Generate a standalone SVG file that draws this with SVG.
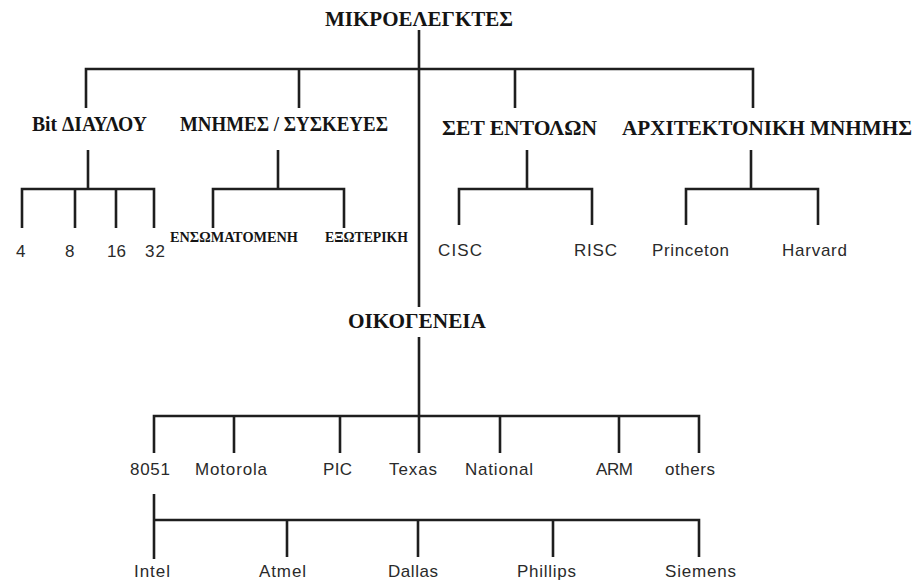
<svg xmlns="http://www.w3.org/2000/svg" width="914" height="582" viewBox="0 0 914 582">
<style>
.bg{fill:#ffffff}
.c{stroke:#1e1e1e;stroke-width:2.6;fill:none;stroke-linecap:butt}
.h{font-family:"Liberation Serif","Times New Roman",serif;font-weight:bold;font-size:21px;fill:#141414}
.hs{font-family:"Liberation Serif","Times New Roman",serif;font-weight:bold;font-size:14px;fill:#141414}
.l{font-family:"Liberation Sans",Arial,sans-serif;font-size:17px;fill:#2a2a2a}
</style>
<rect class="bg" x="0" y="0" width="914" height="582"/>
<g id="connectors" class="c">
<path d="M419 30V307M419 337V453"/>
<path d="M86 108V69H753V108M299 69V108M515 69V108"/>
<path d="M88 150V189M22 228V189H154V228M75 189V228M116 189V228"/>
<path d="M278 150V189M213 228V189H344V228"/>
<path d="M527 150V189M459 225V189H592V225"/>
<path d="M751 150V189M686 225V189H818V225"/>
<path d="M154 453V416H699V453M234 416V453M340 416V453M500 416V453M619 416V453"/>
<path d="M154 494V559M154 520H699V557M287 520V557M418 520V557M553 520V557"/>
</g>
<g id="root"><text class="h" x="325" y="26" textLength="188" lengthAdjust="spacingAndGlyphs">ΜΙΚΡΟΕΛΕΓΚΤΕΣ</text></g>
<g id="bit"><text class="h" x="32" y="131" textLength="115" lengthAdjust="spacingAndGlyphs">Bit ΔΙΑΥΛΟΥ</text></g>
<g id="mem"><text class="h" x="180" y="131" textLength="208" lengthAdjust="spacingAndGlyphs">ΜΝΗΜΕΣ / ΣΥΣΚΕΥΕΣ</text></g>
<g id="set"><text class="h" x="442" y="135" textLength="155" lengthAdjust="spacingAndGlyphs">ΣΕΤ ΕΝΤΟΛΩΝ</text></g>
<g id="arch"><text class="h" x="622" y="135" textLength="290" lengthAdjust="spacingAndGlyphs">ΑΡΧΙΤΕΚΤΟΝΙΚΗ ΜΝΗΜΗΣ</text></g>
<g id="family"><text class="h" x="348" y="328" textLength="138" lengthAdjust="spacingAndGlyphs">ΟΙΚΟΓΕΝΕΙΑ</text></g>
<g id="bit4"><text class="l" x="16" y="257">4</text></g>
<g id="bit8"><text class="l" x="65" y="257">8</text></g>
<g id="bit16"><text class="l" x="107" y="257" textLength="19">16</text></g>
<g id="bit32"><text class="l" x="145" y="257" textLength="20">32</text></g>
<g id="internal"><text class="hs" x="170" y="242" textLength="128" lengthAdjust="spacingAndGlyphs">ΕΝΣΩΜΑΤΟΜΕΝΗ</text></g>
<g id="external"><text class="hs" x="325" y="242" textLength="83" lengthAdjust="spacingAndGlyphs">ΕΞΩΤΕΡΙΚΗ</text></g>
<g id="cisc"><text class="l" x="438" y="256" textLength="44">CISC</text></g>
<g id="risc"><text class="l" x="574" y="256" textLength="43">RISC</text></g>
<g id="princeton"><text class="l" x="652" y="256" textLength="77">Princeton</text></g>
<g id="harvard"><text class="l" x="782" y="256" textLength="65">Harvard</text></g>
<g id="f8051"><text class="l" x="130" y="475" textLength="40">8051</text></g>
<g id="motorola"><text class="l" x="195" y="475" textLength="72">Motorola</text></g>
<g id="pic"><text class="l" x="323" y="475" textLength="29">PIC</text></g>
<g id="texas"><text class="l" x="389" y="475" textLength="48">Texas</text></g>
<g id="national"><text class="l" x="465" y="475" textLength="68">National</text></g>
<g id="arm"><text class="l" x="596" y="475" textLength="37">ARM</text></g>
<g id="others"><text class="l" x="665" y="475" textLength="50">others</text></g>
<g id="intel"><text class="l" x="134" y="577" textLength="36">Intel</text></g>
<g id="atmel"><text class="l" x="259" y="577" textLength="47">Atmel</text></g>
<g id="dallas"><text class="l" x="388" y="577" textLength="50">Dallas</text></g>
<g id="phillips"><text class="l" x="517" y="577" textLength="59">Phillips</text></g>
<g id="siemens"><text class="l" x="665" y="577" textLength="71">Siemens</text></g>
</svg>
